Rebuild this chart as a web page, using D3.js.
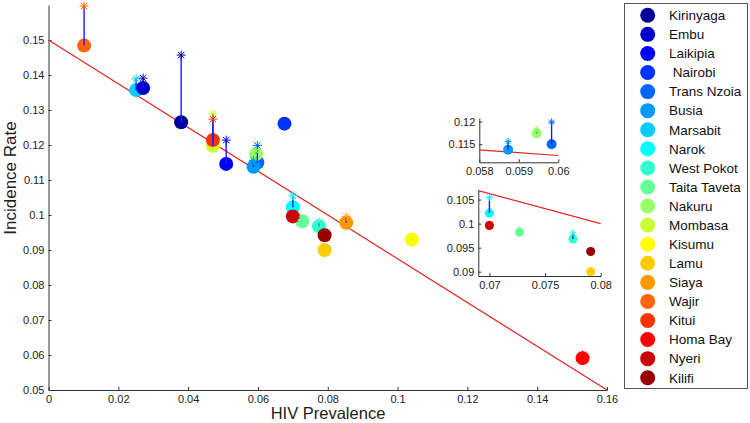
<!DOCTYPE html>
<html><head><meta charset="utf-8">
<script src="https://cdn.jsdelivr.net/npm/d3@7"></script>
<style>body{margin:0;background:#fff}svg{font-family:"Liberation Sans",Arial,sans-serif}</style>
</head><body><svg id="c" width="750" height="423"></svg>
<script>
const counties = ["Kirinyaga","Embu","Laikipia"," Nairobi","Trans Nzoia","Busia","Marsabit","Narok","West Pokot","Taita Taveta","Nakuru","Mombasa","Kisumu","Lamu","Siaya","Wajir","Kitui","Homa Bay","Nyeri","Kilifi"];
const prevalence = [0.0380,0.0271,0.0509,0.0676,0.05983,0.05873,0.0251,0.0700,0.0775,0.0727,0.05945,0.0471,0.1041,0.0791,0.0853,0.0102,0.0471,0.1530,0.0700,0.0791];
const incidence  = [0.1265,0.1363,0.1146,0.1261,0.1150,0.1138,0.1357,0.1022,0.0968,0.0982,0.1174,0.1198,0.0930,0.0900,0.0978,0.1484,0.1214,0.0591,0.0996,0.0942];
const modelInc   = [0.1457,0.1391,0.1214,0.1265,0.1199,0.1156,0.1389,0.1055,0.0981,0.0987,0.1183,0.1290,0.0935,0.0902,0.0995,0.1597,0.1274,0.0600,0.0999,0.0944];
const fitLine = [[0,0.15],[0.16,0.05]];
const xTicks = [0,0.02,0.04,0.06,0.08,0.1,0.12,0.14,0.16];
const xTickLabels = ["0","0.02","0.04","0.06","0.08","0.1","0.12","0.14","0.16"];
const yTicks = [0.05,0.06,0.07,0.08,0.09,0.1,0.11,0.12,0.13,0.14,0.15];
const yTickLabels = ["0.05","0.06","0.07","0.08","0.09","0.1","0.11","0.12","0.13","0.14","0.15"];
const inset1XTicks = [0.058,0.059,0.06], inset1XLabels = ["0.058","0.059","0.06"];
const inset1YTicks = [0.115,0.12], inset1YLabels = ["0.115","0.12"];
const inset2XTicks = [0.07,0.075,0.08], inset2XLabels = ["0.07","0.075","0.08"];
const inset2YTicks = [0.09,0.095,0.1,0.105], inset2YLabels = ["0.09","0.095","0.1","0.105"];

// jet(20) colormap
function jet(m){const n=Math.ceil(m/4);const u=[];for(let i=1;i<=n;i++)u.push(i/n);for(let i=0;i<n-1;i++)u.push(1);for(let i=n;i>=1;i--)u.push(i/n);
 const g0=Math.ceil(n/2)-(m%4===1?1:0);const R=Array(m).fill(0),G=Array(m).fill(0),B=Array(m).fill(0);
 u.forEach((v,k)=>{const g=g0+k+1;const r=g+n,b=g-n;if(g>=1&&g<=m)G[g-1]=v;if(r>=1&&r<=m)R[r-1]=v;if(b>=1&&b<=m)B[b-1]=v;});
 return R.map((r,i)=>d3.rgb(r*255,G[i]*255,B[i]*255).formatHex());}
const colors = jet(counties.length);
const data = counties.map((c,i)=>({c,i,x:prevalence[i],y:incidence[i],m:modelInc[i],col:colors[i]}));
const drawOrder = data.slice(); // Embu drawn above Marsabit
drawOrder.push(drawOrder.splice(1,1)[0]);

const svg = d3.select("#c");
const stemCol = "#1a1aff", lineCol = "#e02626";

function star(g, x, y, s, col){
  const p = d3.path();
  p.moveTo(x-s,y);p.lineTo(x+s,y);p.moveTo(x,y-s);p.lineTo(x,y+s);
  const d=s*0.72;p.moveTo(x-d,y-d);p.lineTo(x+d,y+d);p.moveTo(x-d,y+d);p.lineTo(x+d,y-d);
  g.append("path").attr("d",p.toString()).attr("stroke",col).attr("stroke-width",1).attr("fill","none");
}

function panel(g, xs, ys, pts, r, s, xt, xl, yt, yl, fs){
  const axCol="#333";
  const xa = d3.axisBottom(xs).tickValues(xt).tickFormat((d,i)=>xl[i]).tickSize(-3).tickSizeOuter(0).tickPadding(5);
  const ya = d3.axisLeft(ys).tickValues(yt).tickFormat((d,i)=>yl[i]).tickSize(-3).tickSizeOuter(0).tickPadding(4);
  const gx = g.append("g").attr("transform",`translate(0,${ys.range()[0]})`).call(xa);
  const gy = g.append("g").attr("transform",`translate(${xs.range()[0]},0)`).call(ya);
  [gx,gy].forEach(a=>{a.selectAll("path,line").attr("stroke",axCol);a.selectAll("text").attr("fill","#222").style("font-size",fs+"px");a.attr("font-family",null);});
  const x0=xs.domain()[0], x1=xs.domain()[1];
  const f = t => fitLine[0][1] + (fitLine[1][1]-fitLine[0][1])*(t-fitLine[0][0])/(fitLine[1][0]-fitLine[0][0]);
  g.append("line").attr("x1",xs(x0)).attr("y1",ys(f(x0))).attr("x2",xs(x1)).attr("y2",ys(f(x1))).attr("stroke",lineCol).attr("stroke-width",1.2);
  const gc = g.append("g");
  pts.forEach(d=>gc.append("circle").attr("cx",xs(d.x)).attr("cy",ys(d.y)).attr("r",r).attr("fill",d.col));
  pts.forEach(d=>g.append("line").attr("x1",xs(d.x)).attr("x2",xs(d.x)).attr("y1",ys(d.y)).attr("y2",ys(d.m)).attr("stroke",stemCol).attr("stroke-width",1.4));
  pts.forEach(d=>star(g,xs(d.x),ys(d.m),s,d.col));
}

// main
const x = d3.scaleLinear().domain([0,0.16]).range([48.5,607]);
const y = d3.scaleLinear().domain([0.05,0.16]).range([390,5]);
panel(svg.append("g"), x, y, drawOrder, 7, 4.5, xTicks, xTickLabels, yTicks, yTickLabels, 11);
svg.append("text").attr("x",328).attr("y",419).attr("text-anchor","middle").style("font-size","16.5px").attr("fill","#222").text("HIV Prevalence");
svg.append("text").attr("transform","translate(16,178) rotate(-90)").attr("text-anchor","middle").style("font-size","17px").attr("fill","#222").text("Incidence Rate");

// inset 1
const x1 = d3.scaleLinear().domain([0.058,0.06]).range([479.3,558.3]);
const y1 = d3.scaleLinear().domain([0.111,0.1208]).range([162.3,118]);
const in1 = drawOrder.filter(d=>d.x>=0.058&&d.x<=0.06&&d.y>=0.111&&d.y<=0.121);
panel(svg.append("g"), x1, y1, in1, 5, 3.5, inset1XTicks, inset1XLabels, inset1YTicks, inset1YLabels, 11);

// inset 2
const x2 = d3.scaleLinear().domain([0.069,0.08]).range([478.3,600.7]);
const y2 = d3.scaleLinear().domain([0.0891,0.107]).range([276,190]);
const in2 = drawOrder.filter(d=>d.x>=0.069&&d.x<=0.0805&&d.y>=0.089&&d.y<=0.107);
panel(svg.append("g"), x2, y2, in2, 4.5, 3.5, inset2XTicks, inset2XLabels, inset2YTicks, inset2YLabels, 11);

// legend
const lg = svg.append("g");
lg.append("rect").attr("x",624.5).attr("y",3.5).attr("width",123).attr("height",385).attr("fill","#fff").attr("stroke","#555");
const ly = d3.scalePoint().domain(counties).range([15.3,377.7]);
data.forEach(d=>{
  lg.append("circle").attr("cx",647.7).attr("cy",ly(d.c)).attr("r",7.5).attr("fill",d.col);
  lg.append("text").attr("x",669).attr("y",ly(d.c)+4.8).style("font-size","13.5px").attr("fill","#111").attr("xml:space","preserve").style("white-space","pre").text(d.c);
});
</script></body></html>
